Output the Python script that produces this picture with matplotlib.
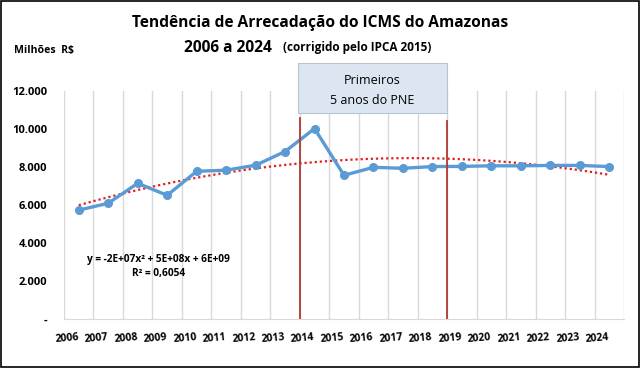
import matplotlib
matplotlib.use("Agg")
import matplotlib.pyplot as plt
import numpy as np
from matplotlib.patches import Rectangle

years = ["2006", "2007", "2008", "2009", "2010", "2011", "2012", "2013", "2014", "2015",
         "2016", "2017", "2018", "2019", "2020", "2021", "2022", "2023", "2024"]
values = [5730, 6090, 7140, 6510, 7770, 7830, 8090, 8810, 10020, 7560,
          7980, 7930, 8020, 8030, 8060, 8060, 8080, 8080, 8020]
yticks = [0, 2000, 4000, 6000, 8000, 10000, 12000]
ytick_labels = ["-", "2.000", "4.000", "6.000", "8.000", "10.000", "12.000"]

FONT = "Open Sans"
plt.rcParams['font.family'] = [FONT, 'DejaVu Sans']

fig = plt.figure(figsize=(6.4, 3.68), dpi=100)
ax = fig.add_axes([0.1, 0.133, 0.875, 0.62])

n = len(years)
x = np.arange(n) + 0.5
ax.set_xlim(0, n)
ax.set_ylim(0, 12000)

# vertical gridlines at category boundaries
for b in range(n + 1):
    ax.axvline(b, color="#d9d9d9", lw=1.0, zorder=0)

# trendline (2nd order polynomial fit, as in the spreadsheet)
coef = np.polyfit(np.arange(1, n + 1), values, 2)
xt = np.linspace(1, n, 200)
ax.plot(xt - 0.5, np.polyval(coef, xt), color="#e0201c", lw=1.6, ls=(0, (1, 1.3)), zorder=2)

ax.plot(x, values, color="#5b9bd5", lw=2.4, marker="o", ms=5.5, zorder=3)

# red vertical markers
ax.plot([8, 8], [0, 10580], color="#b03a2e", lw=1.3, zorder=4)
ax.plot([13, 13], [0, 10420], color="#b03a2e", lw=1.3, zorder=4)

ax.set_yticks(yticks)
ax.set_yticklabels(ytick_labels, fontsize=8, fontweight="bold")
ax.set_xticks(np.arange(n) + 0.1)
ax.set_xticklabels(years, fontsize=7.5, fontweight="bold", rotation=5)
ax.tick_params(axis="both", length=0)
ax.tick_params(axis="x", pad=9)
ax.tick_params(axis="y", pad=12)
for s in ["top", "right", "left"]:
    ax.spines[s].set_visible(False)
ax.spines["bottom"].set_color("#d9d9d9")

# annotation box
rect = Rectangle((7.95, 10842), 5.05, 13474 - 10842, transform=ax.transData,
                 facecolor="#dce6f2", edgecolor="#b8c4d0", lw=0.8, clip_on=False, zorder=5)
ax.add_patch(rect)
ax.text(10.45, 12030, "Primeiros\n5 anos do PNE", ha="center", va="center",
        fontsize=9, linespacing=1.65, zorder=6, clip_on=False)

ax.text(3.2, 2780, "y = -2E+07x² + 5E+08x + 6E+09\nR² = 0,6054", ha="center", va="center",
        fontsize=7.3, fontweight="bold", linespacing=1.35)

fig.text(0.5, 0.938, "Tendência de Arrecadação do ICMS do Amazonas", ha="center", va="center",
         fontsize=11.2, fontweight="bold")
fig.text(0.425, 0.87, "2006 a 2024", ha="right", va="center", fontsize=11.2, fontweight="bold")
fig.text(0.442, 0.87, "(corrigido pelo IPCA 2015)", ha="left", va="center", fontsize=8.5, fontweight="bold")
fig.text(0.022, 0.862, "Milhões  R$", ha="left", va="center", fontsize=7.6, fontweight="bold")

border = Rectangle((0.002, 0.003), 0.996, 0.994, transform=fig.transFigure,
                   facecolor="none", edgecolor="black", lw=1.2)
fig.patches.append(border)

fig.savefig("out.png", dpi=100)
